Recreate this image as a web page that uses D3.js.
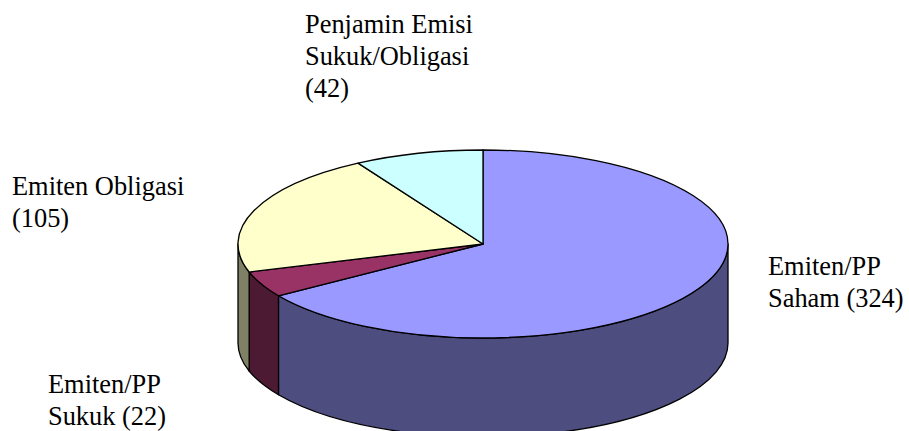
<!DOCTYPE html>
<html><head><meta charset="utf-8">
<script src="https://cdn.jsdelivr.net/npm/d3@7"></script>
<style>html,body{margin:0;padding:0;background:#fff;overflow:hidden}svg{display:block}</style>
</head><body><svg id="c" width="909" height="431"></svg>
<script>
const categories = ["Emiten/PP Saham", "Emiten/PP Sukuk", "Emiten Obligasi", "Penjamin Emisi Sukuk/Obligasi"];
const seriesValues = [324, 22, 105, 42];
const topColors = ["#9999ff", "#993366", "#ffffcc", "#ccffff"];
const sideColors = ["#4d4d80", "#4d1a33", "#808066", "#668080"];
const labelLines = [["Emiten/PP", "Saham (324)"], ["Emiten/PP", "Sukuk (22)"], ["Emiten Obligasi", "(105)"], ["Penjamin Emisi", "Sukuk/Obligasi", "(42)"]];
const labelAnchors = [[768, 275], [48, 393], [12, 195], [305, 33]];

const cx = 483, cy = 244, rx = 245, ry = 94, depth = 99, lh = 32, fs = 26.4;
const svg = d3.select("#c");
const pie = d3.pie().sort(null).value(d => d);
const arcs = pie(seriesValues);
const px = a => cx + rx * Math.sin(a), py = a => cy - ry * Math.cos(a);

const wallPath = (a0, a1) => {
  const s = Math.max(a0, Math.PI / 2), e = Math.min(a1, 3 * Math.PI / 2);
  if (s >= e) return null;
  const sweep = (e - s) > Math.PI ? 1 : 0;
  return `M${px(s)},${py(s)}A${rx},${ry} 0 ${sweep} 1 ${px(e)},${py(e)}` +
         `L${px(e)},${py(e) + depth}A${rx},${ry} 0 ${sweep} 0 ${px(s)},${py(s) + depth}Z`;
};
const stroke = "#000", sw = 1.3;
svg.append("g").selectAll("path").data(arcs).join("path")
  .attr("d", d => wallPath(d.startAngle, d.endAngle))
  .attr("fill", (d, i) => sideColors[i]).attr("stroke", stroke).attr("stroke-width", sw)
  .attr("stroke-linejoin", "round");

const arc = d3.arc().innerRadius(0).outerRadius(rx);
svg.append("g").attr("transform", `translate(${cx},${cy}) scale(1,${ry / rx})`)
  .selectAll("path").data(arcs).join("path")
  .attr("d", arc).attr("fill", (d, i) => topColors[i])
  .attr("stroke", stroke).attr("stroke-width", sw).attr("vector-effect", "non-scaling-stroke")
  .attr("stroke-linejoin", "round");

const t = svg.append("g").attr("font-family", "'Liberation Serif', serif").attr("font-size", fs).attr("fill", "#000");
labelLines.forEach((lines, i) => {
  const txt = t.append("text").attr("x", labelAnchors[i][0]).attr("y", labelAnchors[i][1]);
  lines.forEach((l, j) => txt.append("tspan").attr("x", labelAnchors[i][0]).attr("y", labelAnchors[i][1] + j * lh).text(l));
});
</script></body></html>
